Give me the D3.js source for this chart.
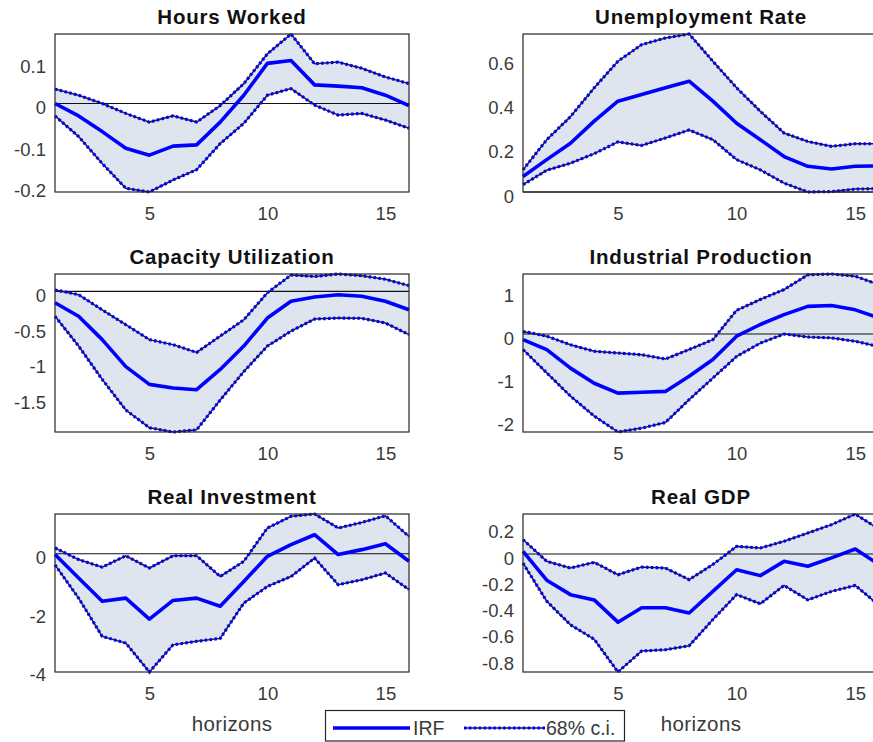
<!DOCTYPE html>
<html>
<head>
<meta charset="utf-8">
<script src="https://cdn.jsdelivr.net/npm/d3@7"></script>
<style>
  body { margin: 0; background: #fff; }
  svg { display: block; font-family: "Liberation Sans", Arial, Helvetica, sans-serif; }
</style>
</head>
<body>
<svg id="chart" width="873" height="742"></svg>
<script>
// Impulse responses over 16 horizons, with 68% confidence bands
const horizons = [1, 2, 3, 4, 5, 6, 7, 8, 9, 10, 11, 12, 13, 14, 15, 16];
const xTickValues = [5, 10, 15];

const titles = ["Hours Worked", "Unemployment Rate", "Capacity Utilization",
                "Industrial Production", "Real Investment", "Real GDP"];

const hoursIRF   = [0, -0.03, -0.068, -0.108, -0.125, -0.103, -0.1, -0.045, 0.02, 0.097, 0.104, 0.045, 0.042, 0.038, 0.02, -0.005];
const hoursUpper = [0.035, 0.02, 0, -0.024, -0.045, -0.03, -0.045, -0.005, 0.048, 0.12, 0.168, 0.096, 0.1, 0.085, 0.064, 0.048];
const hoursLower = [-0.03, -0.08, -0.145, -0.205, -0.214, -0.185, -0.16, -0.097, -0.048, 0.02, 0.036, -0.004, -0.028, -0.024, -0.04, -0.06];

const unempIRF   = [0.07, 0.146, 0.22, 0.32, 0.41, 0.44, 0.47, 0.5, 0.41, 0.31, 0.236, 0.16, 0.116, 0.104, 0.116, 0.118];
const unempUpper = [0.1, 0.236, 0.34, 0.47, 0.59, 0.665, 0.695, 0.713, 0.59, 0.47, 0.364, 0.266, 0.228, 0.206, 0.218, 0.218];
const unempLower = [0.033, 0.098, 0.13, 0.173, 0.226, 0.21, 0.244, 0.28, 0.236, 0.146, 0.1, 0.04, 0, 0.002, 0.013, 0.015];

const capIRF   = [-0.16, -0.35, -0.68, -1.06, -1.31, -1.36, -1.385, -1.1, -0.77, -0.376, -0.14, -0.08, -0.047, -0.07, -0.14, -0.26];
const capUpper = [0.02, -0.047, -0.26, -0.47, -0.68, -0.75, -0.86, -0.63, -0.4, -0.02, 0.23, 0.21, 0.244, 0.22, 0.17, 0.08];
const capLower = [-0.35, -0.77, -1.24, -1.67, -1.92, -1.98, -1.95, -1.53, -1.13, -0.77, -0.56, -0.39, -0.376, -0.38, -0.446, -0.61];

const ipIRF   = [-0.13, -0.36, -0.79, -1.14, -1.37, -1.35, -1.33, -0.98, -0.59, -0.05, 0.22, 0.45, 0.64, 0.66, 0.56, 0.37];
const ipUpper = [0.06, -0.05, -0.25, -0.4, -0.44, -0.48, -0.58, -0.36, -0.13, 0.55, 0.8, 1.03, 1.37, 1.39, 1.34, 1.14];
const ipLower = [-0.36, -0.9, -1.44, -1.9, -2.27, -2.18, -2.05, -1.52, -1.02, -0.52, -0.21, 0, -0.07, -0.09, -0.17, -0.29];

const invIRF   = [-0.03, -0.83, -1.63, -1.52, -2.24, -1.6, -1.52, -1.8, -0.95, -0.09, 0.31, 0.65, -0.03, 0.14, 0.34, -0.26];
const invUpper = [0.2, -0.2, -0.46, -0.07, -0.49, -0.07, -0.07, -0.78, -0.26, 0.88, 1.28, 1.36, 0.88, 1.07, 1.3, 0.59];
const invLower = [-0.38, -1.52, -2.83, -3.06, -4.05, -3.12, -3.0, -2.9, -1.69, -1.12, -0.78, -0.15, -1.06, -0.89, -0.66, -1.23];

const gdpIRF   = [0.02, -0.2, -0.31, -0.35, -0.52, -0.41, -0.41, -0.45, -0.285, -0.12, -0.165, -0.056, -0.094, -0.03, 0.038, -0.08];
const gdpUpper = [0.11, -0.056, -0.107, -0.064, -0.158, -0.1, -0.107, -0.196, -0.08, 0.058, 0.046, 0.097, 0.16, 0.224, 0.305, 0.19];
const gdpLower = [-0.07, -0.36, -0.54, -0.65, -0.9, -0.74, -0.73, -0.7, -0.5, -0.31, -0.38, -0.24, -0.35, -0.285, -0.24, -0.39];

const hoursTicks = [-0.2, -0.1, 0, 0.1];
const unempTicks = [0, 0.2, 0.4, 0.6];
const capTicks   = [-1.5, -1, -0.5, 0];
const ipTicks    = [-2, -1, 0, 1];
const invTicks   = [-4, -2, 0];
const gdpTicks   = [-0.8, -0.6, -0.4, -0.2, 0, 0.2];

const legendLabels = ["IRF", "68% c.i."];

// Styling
const fillColor = "#dfe5ef";
const lineBlue = "#0000ff";
const textColor = "#3a3a3a";

const panels = [
  { title: titles[0], irf: hoursIRF, hi: hoursUpper, lo: hoursLower, ticks: hoursTicks },
  { title: titles[1], irf: unempIRF, hi: unempUpper, lo: unempLower, ticks: unempTicks },
  { title: titles[2], irf: capIRF,   hi: capUpper,   lo: capLower,   ticks: capTicks },
  { title: titles[3], irf: ipIRF,    hi: ipUpper,    lo: ipLower,    ticks: ipTicks },
  { title: titles[4], irf: invIRF,   hi: invUpper,   lo: invLower,   ticks: invTicks },
  { title: titles[5], irf: gdpIRF,   hi: gdpUpper,   lo: gdpLower,   ticks: gdpTicks }
];

const colLeft = [55, 523];
const colWidth = [354, 356];
const rowTop = [34, 274, 514];
const plotH = 158;

const svg = d3.select("#chart");

// dotted band edge: thin dark line with blue dots over it
function dottedEdge(sel, dAttr) {
  sel.append("path")
    .attr("fill", "none").attr("stroke", "#222").attr("stroke-width", 1.5)
    .attr("d", dAttr);
  sel.append("path")
    .attr("fill", "none").attr("stroke", lineBlue).attr("stroke-width", 3.1)
    .attr("stroke-dasharray", "2.5,2.4")
    .attr("d", dAttr);
}

panels.forEach((p, i) => {
  const col = i % 2, row = Math.floor(i / 2);
  const left = colLeft[col], top = rowTop[row], w = colWidth[col];

  const x = d3.scaleLinear().domain([1, 16]).range([left, left + w]);
  const y = d3.scaleLinear()
    .domain([d3.min(p.lo), d3.max(p.hi)])
    .range([top + plotH, top]);

  const pts = horizons.map((h, k) => ({ h, irf: p.irf[k], hi: p.hi[k], lo: p.lo[k] }));
  const g = svg.append("g");

  // confidence band
  g.append("path")
    .datum(pts)
    .attr("fill", fillColor)
    .attr("d", d3.area().x(d => x(d.h)).y0(d => y(d.lo)).y1(d => y(d.hi)));

  // zero line
  g.append("line")
    .attr("x1", x(1)).attr("x2", x(16))
    .attr("y1", y(0)).attr("y2", y(0))
    .attr("stroke", "#111").attr("stroke-width", 1.1);

  ["hi", "lo"].forEach(key => {
    const ln = d3.line().x(d => x(d.h)).y(d => y(d[key]));
    dottedEdge(g, ln(pts));
  });

  // impulse response
  g.append("path").datum(pts)
    .attr("fill", "none").attr("stroke", lineBlue).attr("stroke-width", 3.6)
    .attr("stroke-linejoin", "round")
    .attr("d", d3.line().x(d => x(d.h)).y(d => y(d.irf)));

  // axes box
  g.append("rect")
    .attr("x", left).attr("y", top).attr("width", w).attr("height", plotH)
    .attr("fill", "none").attr("stroke", "#262626").attr("stroke-width", 1.2);

  // y axis labels
  const ya = g.append("g").attr("transform", `translate(${left},0)`)
    .call(d3.axisLeft(y).tickValues(p.ticks).tickSize(0).tickPadding(9)
      .tickFormat(d => String(d)));
  ya.select(".domain").remove();
  ya.selectAll("text").attr("dy", "0.55em")
    .style("font-size", "18.5px").style("fill", textColor)
    .style("font-family", "'Liberation Sans', Arial, sans-serif");

  // x axis labels
  const xa = g.append("g").attr("transform", `translate(0,${top + plotH})`)
    .call(d3.axisBottom(x).tickValues(xTickValues).tickSize(0).tickPadding(15)
      .tickFormat(d => String(d)));
  xa.select(".domain").remove();
  xa.selectAll("text")
    .style("font-size", "18.5px").style("fill", textColor)
    .style("font-family", "'Liberation Sans', Arial, sans-serif");

  // title
  g.append("text")
    .attr("x", left + w / 2).attr("y", top - 10)
    .attr("text-anchor", "middle")
    .style("font-size", "20.5px").style("font-weight", "bold")
    .style("letter-spacing", "0.8px").style("fill", "#111")
    .text(p.title);

  // horizon label under the bottom row
  if (row === 2) {
    g.append("text")
      .attr("x", left + w / 2).attr("y", top + plotH + 59)
      .attr("text-anchor", "middle")
      .style("font-size", "20.5px").style("letter-spacing", "0.4px")
      .style("fill", textColor)
      .text("horizons");
  }
});

// legend
const lg = svg.append("g");
lg.append("rect")
  .attr("x", 325.5).attr("y", 710.5).attr("width", 299).attr("height", 30.5)
  .attr("fill", "#fff").attr("stroke", "#262626").attr("stroke-width", 1.2);
lg.append("line")
  .attr("x1", 333).attr("x2", 410).attr("y1", 728).attr("y2", 728)
  .attr("stroke", lineBlue).attr("stroke-width", 3.6);
lg.append("text").attr("x", 413).attr("y", 735)
  .style("font-size", "19.5px").style("fill", textColor).text(legendLabels[0]);
dottedEdge(lg, "M464,728H545");
lg.append("text").attr("x", 546).attr("y", 735)
  .style("font-size", "19.5px").style("fill", textColor).text(legendLabels[1]);
</script>
</body>
</html>
